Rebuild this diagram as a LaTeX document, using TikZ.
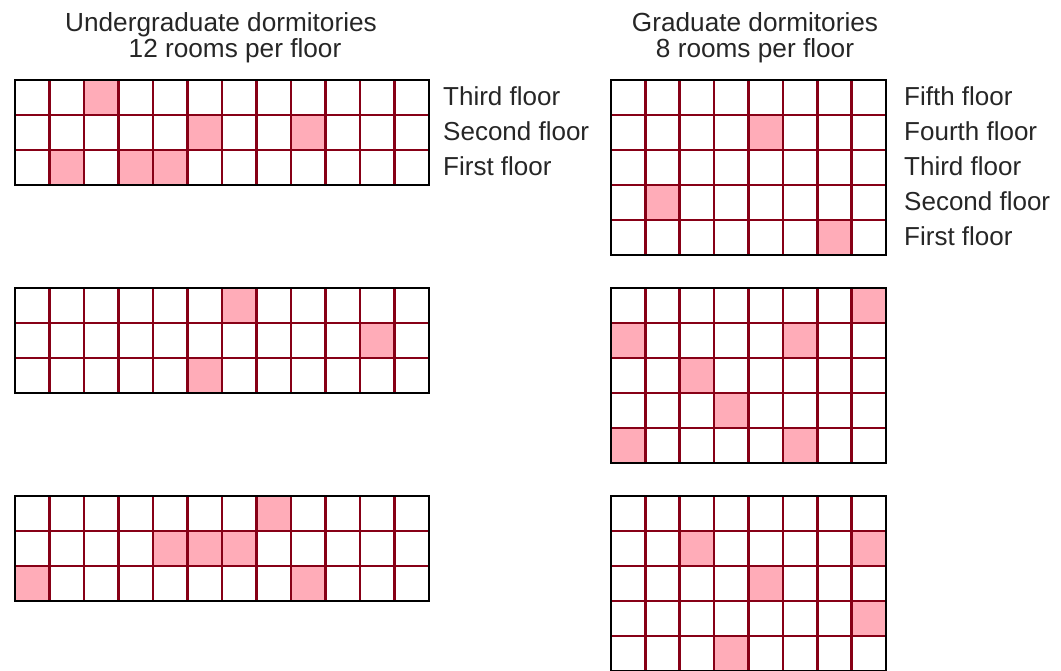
\documentclass[tikz,border=0pt]{standalone}
\usepackage{fontspec}
\setmainfont{Liberation Sans}
\definecolor{wallred}{RGB}{135,0,22}
\definecolor{roompink}{RGB}{255,172,184}
\begin{document}
\begin{tikzpicture}[
    x=1pt, y=-1pt,
    % Column headings
    heading/.style={
        anchor=base, inner sep=0pt, text=black!85,
        font=\fontsize{26.2}{29}\selectfont
    },
    % Floor names beside the first block
    floorlbl/.style={
        anchor=base west, inner sep=0pt, text=black!85,
        font=\fontsize{26}{29}\selectfont
    },
    occ/.style={fill=roompink},
    wall/.style={draw=wallred, line width=2.6pt},
    outer/.style={draw=black, line width=2.8pt}
]
\useasboundingbox (0, 0) rectangle (1061, 671);

% ---- HEADINGS ----
\node[heading] (t_und)  at (221, 32) {Undergraduate dormitories};
\node[heading] (s_und)  at (235, 58) {12 rooms per floor};
\node[heading] (t_grad) at (755, 32) {Graduate dormitories};
\node[heading] (s_grad) at (755, 58) {8 rooms per floor};

% ---- UNDERGRADUATE: BLOCK 1 ----
\foreach \c/\r in {3/1, 6/2, 9/2, 2/3, 4/3, 5/3}
    \fill[occ] ({15+(\c-1)*34.5}, {80+(\r-1)*35}) rectangle +(34.5, 35);
\foreach \i in {1,...,11} \draw[wall] ({15+\i*34.5}, 80) -- +(0, 105);
\foreach \j in {1,2} \draw[wall] (15, {80+\j*35}) -- +(414, 0);
\draw[outer] (15, 80) rectangle (429, 185);

\node[floorlbl] (l_u3) at (443, 106) {Third floor};
\node[floorlbl] (l_u2) at (443, 141) {Second floor};
\node[floorlbl] (l_u1) at (443, 176) {First floor};

% ---- GRADUATE: BLOCK 1 ----
\foreach \c/\r in {5/2, 2/4, 7/5}
    \fill[occ] ({611+(\c-1)*34.375}, {80+(\r-1)*35}) rectangle +(34.375, 35);
\foreach \i in {1,...,7} \draw[wall] ({611+\i*34.375}, 80) -- +(0, 175);
\foreach \j in {1,...,4} \draw[wall] (611, {80+\j*35}) -- +(275, 0);
\draw[outer] (611, 80) rectangle (886, 255);

\node[floorlbl] (l_g5) at (904, 106) {Fifth floor};
\node[floorlbl] (l_g4) at (904, 141) {Fourth floor};
\node[floorlbl] (l_g3) at (904, 176) {Third floor};
\node[floorlbl] (l_g2) at (904, 211) {Second floor};
\node[floorlbl] (l_g1) at (904, 246) {First floor};

% ---- UNDERGRADUATE: BLOCK 2 ----
\foreach \c/\r in {7/1, 11/2, 6/3}
    \fill[occ] ({15+(\c-1)*34.5}, {288+(\r-1)*35}) rectangle +(34.5, 35);
\foreach \i in {1,...,11} \draw[wall] ({15+\i*34.5}, 288) -- +(0, 105);
\foreach \j in {1,2} \draw[wall] (15, {288+\j*35}) -- +(414, 0);
\draw[outer] (15, 288) rectangle (429, 393);

% ---- GRADUATE: BLOCK 2 ----
\foreach \c/\r in {8/1, 1/2, 6/2, 3/3, 4/4, 1/5, 6/5}
    \fill[occ] ({611+(\c-1)*34.375}, {288+(\r-1)*35}) rectangle +(34.375, 35);
\foreach \i in {1,...,7} \draw[wall] ({611+\i*34.375}, 288) -- +(0, 175);
\foreach \j in {1,...,4} \draw[wall] (611, {288+\j*35}) -- +(275, 0);
\draw[outer] (611, 288) rectangle (886, 463);

% ---- UNDERGRADUATE: BLOCK 3 ----
\foreach \c/\r in {8/1, 5/2, 6/2, 7/2, 1/3, 9/3}
    \fill[occ] ({15+(\c-1)*34.5}, {496+(\r-1)*35}) rectangle +(34.5, 35);
\foreach \i in {1,...,11} \draw[wall] ({15+\i*34.5}, 496) -- +(0, 105);
\foreach \j in {1,2} \draw[wall] (15, {496+\j*35}) -- +(414, 0);
\draw[outer] (15, 496) rectangle (429, 601);

% ---- GRADUATE: BLOCK 3 ----
\foreach \c/\r in {3/2, 8/2, 5/3, 8/4, 4/5}
    \fill[occ] ({611+(\c-1)*34.375}, {496+(\r-1)*35}) rectangle +(34.375, 35);
\foreach \i in {1,...,7} \draw[wall] ({611+\i*34.375}, 496) -- +(0, 175);
\foreach \j in {1,...,4} \draw[wall] (611, {496+\j*35}) -- +(275, 0);
\draw[outer] (611, 496) rectangle (886, 671);

\end{tikzpicture}
\end{document}
